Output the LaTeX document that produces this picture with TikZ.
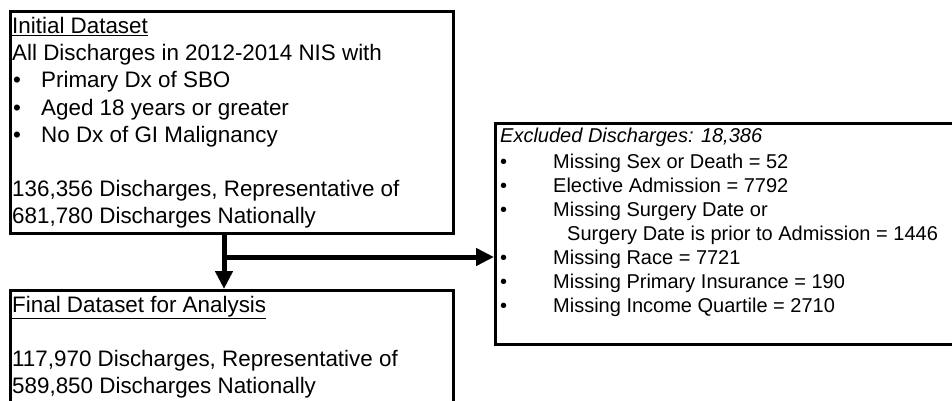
\documentclass[tikz,border=0pt]{standalone}
\usepackage{fontspec}
\setmainfont{Liberation Sans}
\usetikzlibrary{arrows.meta}

\begin{document}
\begin{tikzpicture}[x=1pt, y=-1pt,
  box/.style={draw, line width=3pt, anchor=north west, inner sep=0pt},
  big/.style={anchor=base west, inner sep=0pt, font=\fontsize{22.4}{27}\selectfont},
  small/.style={anchor=base west, inner sep=0pt, font=\fontsize{20}{24}\selectfont},
  flow/.style={line width=5pt, -{Triangle[length=18pt,width=17pt]}}]
\clip (0,0) rectangle (952,401);
\node[box, minimum width=443pt, minimum height=222pt] (init) at (9,10) {};
\node[box, minimum width=443pt, minimum height=120pt] (final) at (9,289) {};
\node[box, minimum width=470pt, minimum height=221pt] (excl) at (494,122) {};
% initial dataset
\node[big] (i1) at (12,34) {\underline{Initial Dataset}};
\node[big] (i2) at (12,61) {All Discharges in 2012-2014 NIS with};
\node[big] (b1) at (13,88) {•};
\node[big] (i3) at (41,88) {Primary Dx of SBO};
\node[big] (b2) at (13,115) {•};
\node[big] (i4) at (41,115) {Aged 18 years or greater};
\node[big] (b3) at (13,142) {•};
\node[big] (i5) at (41,142) {No Dx of GI Malignancy};
\node[big] (i6) at (12,196) {136,356 Discharges, Representative of};
\node[big] (i7) at (12,223) {681,780 Discharges Nationally};
% final dataset
\node[big] (f1) at (12,312) {\underline{Final Dataset for Analysis}};
\node[big] (f2) at (12,366) {117,970 Discharges, Representative of};
\node[big] (f3) at (12,393) {589,850 Discharges Nationally};
% excluded
\node[small] (e0) at (500,142) {\itshape Excluded Discharges: 18,386};
\node[small] (c1) at (500,168) {•};
\node[small] (e1) at (553,168) {Missing Sex or Death = 52};
\node[small] (c2) at (500,192) {•};
\node[small] (e2) at (553,192) {Elective Admission = 7792};
\node[small] (c3) at (500,216) {•};
\node[small] (e3) at (553,216) {Missing Surgery Date or};
\node[small] (e4) at (567,240) {Surgery Date is prior to Admission = 1446};
\node[small] (c4) at (500,264) {•};
\node[small] (e5) at (553,264) {Missing Race = 7721};
\node[small] (c5) at (500,288) {•};
\node[small] (e6) at (553,288) {Missing Primary Insurance = 190};
\node[small] (c6) at (500,312) {•};
\node[small] (e7) at (553,312) {Missing Income Quartile = 2710};

\coordinate (split) at (224,257);
\draw[flow] (init.south -| split) -- (final.north -| split);
\draw[flow] ([xshift=-2.5pt]split) -- (excl.west |- split);
\end{tikzpicture}
\end{document}
